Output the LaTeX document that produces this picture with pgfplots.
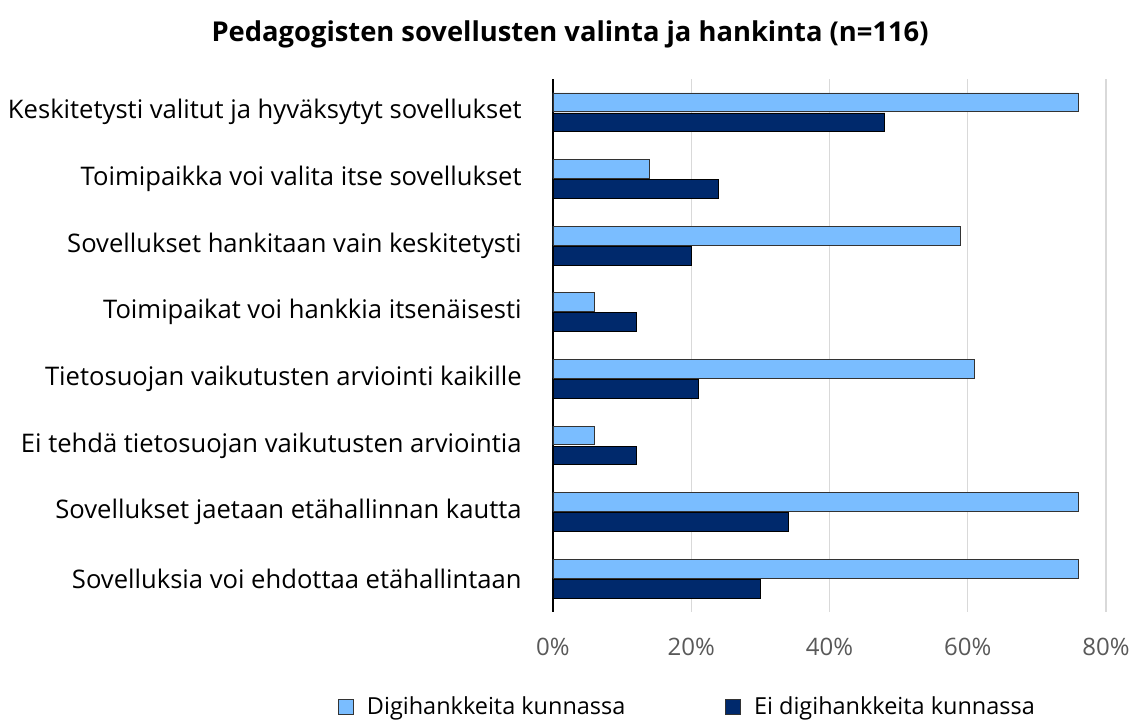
\documentclass[border=0pt]{standalone}
\usepackage{fontspec}
\setmainfont{Open Sans}
\usepackage{pgfplots}
\pgfplotsset{compat=1.18}
\definecolor{lightb}{RGB}{122,189,255}
\definecolor{darkb}{RGB}{0,41,108}
\definecolor{gridc}{RGB}{217,217,217}
\definecolor{tickc}{RGB}{89,89,89}
\begin{document}
\begin{tikzpicture}[x=0.75pt,y=0.75pt]
\useasboundingbox (-553,-112) rectangle (580,612);
\begin{axis}[
  at={(0,0)}, anchor=south west,
  scale only axis,
  width=414.75pt, height=399.75pt,
  xbar, bar width=14pt,
  xmin=0, xmax=80,
  ymin=-0.5, ymax=7.5,
  y dir=reverse,
  axis x line*=bottom, axis y line*=left,
  x axis line style={draw=none},
  y axis line style={line width=2.2pt, black},
  xtick={0,20,40,60,80},
  xticklabel={\pgfmathprintnumber{\tick}\%},
  /pgf/number format/assume math mode=true,
  xmajorgrids, grid style={gridc, line width=1pt},
  major tick length=0pt,
  xticklabel style={font=\fontsize{18}{21}\selectfont, text=tickc, yshift=-16pt},
  ytick={0,...,7},
  yticklabels={Keskitetysti valitut ja hyväksytyt sovellukset,
    Toimipaikka voi valita itse sovellukset,
    Sovellukset hankitaan vain keskitetysti,
    Toimipaikat voi hankkia itsenäisesti,
    Tietosuojan vaikutusten arviointi kaikille,
    Ei tehdä tietosuojan vaikutusten arviointia,
    Sovellukset jaetaan etähallinnan kautta,
    Sovelluksia voi ehdottaa etähallintaan},
  yticklabel style={font=\fontsize{19.2}{22}\selectfont, text=black, xshift=-20pt},
  title={\bfseries Pedagogisten sovellusten valinta ja hankinta (n=116)},
  title style={at={(0.031,1.068)}, anchor=center, font=\fontsize{20.5}{24}\selectfont},
  legend columns=2,
  legend style={at={(0.244,-0.178)}, anchor=center, draw=none,
    font=\fontsize{17.6}{21}\selectfont,
    /tikz/every odd column/.append style={column sep=8pt},
    /tikz/every even column/.append style={column sep=73pt}},
  legend image code/.code={\draw[#1, draw=black!80, line width=0.5pt] (0pt,-5.5pt) rectangle (11pt,5.5pt);},
]
\addplot[fill=lightb, draw=black!80, line width=0.6pt, bar shift=7.5pt] coordinates {
(76,0) (14,1) (59,2) (6,3) (61,4) (6,5) (76,6) (76,7)};
\addplot[fill=darkb, draw=black, line width=0.6pt, bar shift=-7.5pt] coordinates {
(48,0) (24,1) (20,2) (12,3) (21,4) (12,5) (34,6) (30,7)};
\legend{Digihankkeita kunnassa, Ei digihankkeita kunnassa}
\end{axis}
\end{tikzpicture}
\end{document}
